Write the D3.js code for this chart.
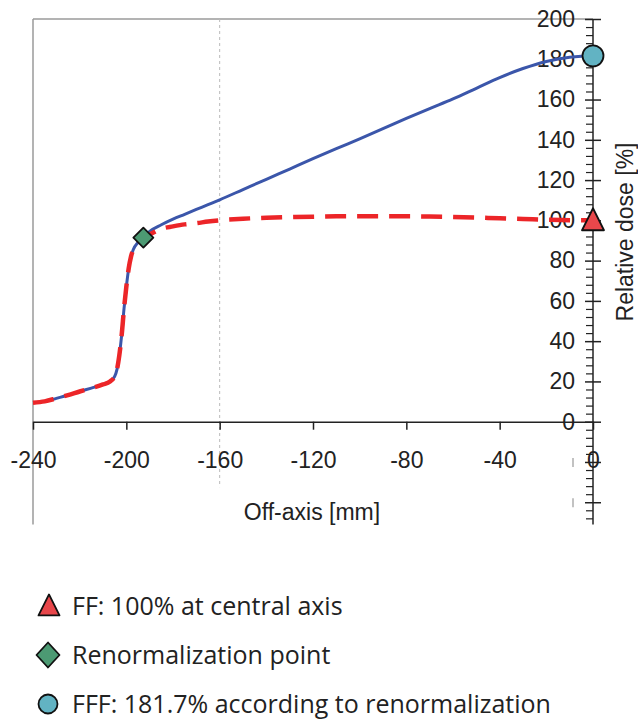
<!DOCTYPE html>
<html>
<head>
<meta charset="utf-8">
<script src="https://cdn.jsdelivr.net/npm/d3@7"></script>
<style>
    body { margin: 0; background: #fff; }
    svg { display: block; }
</style>
</head>
<body>
<div id="chart"><svg></svg></div>
<script>
// off-axis position [mm] shared by both profiles
let offAxis = [-240, -235, -230, -225, -220, -215, -210, -207, -205, -204, -203, -202, -201, -200,
    -199, -198, -197, -195, -192.7, -190, -185, -180, -175, -170, -165, -160, -150, -140, -130, -120,
    -110, -100, -90, -80, -70, -60, -50, -40, -30, -20, -10, -5, 0];

// FFF profile, renormalized (blue solid)
let fffDose = [9.4, 10.1, 11.6, 13.2, 15, 16.7, 18.5, 20, 22.5, 26, 33, 43, 56, 67,
    76, 82, 85.5, 89, 91.4, 94.5, 97.8, 100.6, 103, 105.4, 107.8, 110.2, 115.3, 120.4, 125.5, 130.6,
    135.6, 140.5, 145.5, 150.6, 155.5, 160.3, 165.6, 170.9, 175.4, 178.9, 181, 181.5, 181.7];

// FF profile (red dashed)
let ffDose = [9.4, 10.1, 11.6, 13.2, 15, 16.7, 18.5, 20, 22.5, 26, 33, 43, 56, 67,
    76, 82, 85.5, 89, 91.4, 93, 95.8, 97, 98, 98.6, 99.4, 100, 100.8, 101.3, 101.6, 101.8,
    102, 102, 102, 102, 101.9, 101.7, 101.4, 101, 100.7, 100.3, 100.1, 100, 100];

let xTicks = [-240, -200, -160, -120, -80, -40, 0];
let yTicks = [0, 20, 40, 60, 80, 100, 120, 140, 160, 180, 200];
let yHiddenTicks = [-20, -40];

// markers: [off-axis, dose]
let ffPoint = [0, 100];
let renormPoint = [-192.7, 91.4];
let fffPoint = [0, 181.7];

let legendLabels = [
    "FF: 100% at central axis",
    "Renormalization point",
    "FFF: 181.7% according to renormalization"
];

let w = 638, h = 721;
let axisFont = "'Liberation Sans', Arial, sans-serif";
let blue = "#3b56aa", red = "#ec2528";
let triFill = "#e8474b", diaFill = "#4c9a73", cirFill = "#62b3c3";

let svg = d3.select("#chart svg").attr("width", w).attr("height", h);

let xScale = d3.scaleLinear().domain([-240, 0]).range([33, 593]);
let yScale = d3.scaleLinear().domain([0, 200]).range([421.7, 19]);

// plain hyphen like the original labels
let plain = function (d) { return String(d); };

// frame (left + top)
svg.append("line")
    .attr("x1", xScale(-240)).attr("x2", xScale(-240))
    .attr("y1", yScale(200)).attr("y2", yScale(-51))
    .attr("stroke", "#9a9a9a").attr("stroke-width", 1.5);
svg.append("line")
    .attr("x1", xScale(-240)).attr("x2", xScale(0))
    .attr("y1", yScale(200)).attr("y2", yScale(200))
    .attr("stroke", "#9a9a9a").attr("stroke-width", 1.5);

// dotted line at -160
svg.append("line")
    .attr("x1", xScale(-160)).attr("x2", xScale(-160))
    .attr("y1", yScale(200)).attr("y2", yScale(-32.5))
    .attr("stroke", "#bbb").attr("stroke-width", 1)
    .attr("stroke-dasharray", "3,3");

// x axis
let xAxis = d3.axisBottom(xScale)
    .tickValues(xTicks)
    .tickSizeInner(8)
    .tickSizeOuter(0)
    .tickPadding(22)
    .tickFormat(plain);
let gx = svg.append("g")
    .attr("transform", "translate(0," + yScale(0) + ")")
    .call(xAxis)
    .attr("font-family", axisFont)
    .attr("font-size", 23);
gx.select(".domain").attr("stroke", "#222").attr("stroke-width", 1.5);
gx.selectAll(".tick line").attr("stroke", "#222").attr("stroke-width", 1.5);
gx.selectAll(".tick text").attr("fill", "#222");

// y axis: minor ticks
let minorTicks = d3.range(-48, 201, 4).filter(function (d) { return d % 20 !== 0; });
let gyMinor = svg.append("g")
    .attr("transform", "translate(" + xScale(0) + ",0)")
    .call(d3.axisLeft(yScale).tickValues(minorTicks).tickSize(7).tickFormat(""));
gyMinor.select(".domain").remove();
gyMinor.selectAll(".tick line").attr("stroke", "#222").attr("stroke-width", 1.2);

// y axis: majors, left part with labels
let yMajor = yTicks.concat(yHiddenTicks);
let gy = svg.append("g")
    .attr("transform", "translate(" + xScale(0) + ",0)")
    .call(d3.axisLeft(yScale).tickValues(yMajor).tickSize(8).tickPadding(10).tickSizeOuter(0).tickFormat(plain))
    .attr("font-family", axisFont)
    .attr("font-size", 23);
gy.select(".domain").remove();
gy.selectAll(".tick line").attr("stroke", "#222").attr("stroke-width", 1.5);
gy.selectAll(".tick text").attr("fill", "#222");
gy.selectAll(".tick text").filter(function (d) { return d < 0; }).remove();

// y axis: majors, right part
let gyR = svg.append("g")
    .attr("transform", "translate(" + xScale(0) + ",0)")
    .call(d3.axisRight(yScale).tickValues(yMajor).tickSize(8).tickFormat(""));
gyR.select(".domain").remove();
gyR.selectAll(".tick line").attr("stroke", "#222").attr("stroke-width", 1.5);

// y axis line
svg.append("line")
    .attr("x1", xScale(0)).attr("x2", xScale(0))
    .attr("y1", yScale(200)).attr("y2", yScale(-51))
    .attr("stroke", "#222").attr("stroke-width", 1.5);

// remnants of the hidden negative labels
svg.selectAll("line.stub")
    .data(yHiddenTicks)
    .enter()
    .append("line")
    .attr("class", "stub")
    .attr("x1", xScale(0) - 20).attr("x2", xScale(0) - 20)
    .attr("y1", function (d) { return yScale(d) - 4; })
    .attr("y2", function (d) { return yScale(d) + 5; })
    .attr("stroke", "#999").attr("stroke-width", 1.2);

// axis titles
svg.append("text")
    .attr("x", 312).attr("y", 520)
    .attr("text-anchor", "middle")
    .style("font-family", axisFont)
    .style("font-size", "23px").style("fill", "#222")
    .text("Off-axis [mm]");
svg.append("text")
    .attr("transform", "translate(633,232) rotate(-90)")
    .attr("text-anchor", "middle")
    .style("font-family", axisFont)
    .style("font-size", "23px").style("fill", "#222")
    .text("Relative dose [%]");

// profiles
let line = function (values) {
    return d3.line()
        .x(function (d, i) { return xScale(offAxis[i]); })
        .y(function (d) { return yScale(d); })
        .curve(d3.curveMonotoneX)(values);
};

svg.append("path")
    .attr("d", line(fffDose))
    .attr("fill", "none")
    .attr("stroke", blue)
    .attr("stroke-width", 3);

svg.append("path")
    .attr("d", line(ffDose))
    .attr("fill", "none")
    .attr("stroke", red)
    .attr("stroke-width", 4.5)
    .attr("stroke-dasharray", "21,11");

// markers
function triangle(g, cx, cy, s) {
    g.append("path")
        .attr("d", "M" + cx + "," + (cy - s * 0.55) + "L" + (cx + s / 2) + "," + (cy + s * 0.45) +
            "L" + (cx - s / 2) + "," + (cy + s * 0.45) + "Z")
        .attr("fill", triFill).attr("stroke", "#111").attr("stroke-width", 1.8)
        .attr("stroke-linejoin", "round");
}
function diamond(g, cx, cy, sw, sh) {
    g.append("path")
        .attr("d", "M" + cx + "," + (cy - sh / 2) + "L" + (cx + sw / 2) + "," + cy +
            "L" + cx + "," + (cy + sh / 2) + "L" + (cx - sw / 2) + "," + cy + "Z")
        .attr("fill", diaFill).attr("stroke", "#111").attr("stroke-width", 1.8)
        .attr("stroke-linejoin", "round");
}
function circle(g, cx, cy, r) {
    g.append("circle")
        .attr("cx", cx).attr("cy", cy).attr("r", r)
        .attr("fill", cirFill).attr("stroke", "#111").attr("stroke-width", 1.8);
}

diamond(svg, xScale(renormPoint[0]), yScale(renormPoint[1]), 20, 20);
triangle(svg, xScale(ffPoint[0]), yScale(ffPoint[1]), 22);
circle(svg, xScale(fffPoint[0]), yScale(fffPoint[1]), 10.5);

// legend
let legend = svg.append("g");
let rowY = d3.scalePoint().domain(d3.range(legendLabels.length)).range([606, 704]);
triangle(legend, 49, rowY(0), 21);
diamond(legend, 48, rowY(1), 23, 25);
circle(legend, 48, rowY(2), 9.5);

legend.selectAll("text")
    .data(legendLabels)
    .enter()
    .append("text")
    .attr("x", 72)
    .attr("y", function (d, i) { return rowY(i) + 9; })
    .style("font-family", "'Open Sans', sans-serif")
    .style("font-size", "25px")
    .style("fill", "#222")
    .text(function (d) { return d; });
</script>
</body>
</html>
